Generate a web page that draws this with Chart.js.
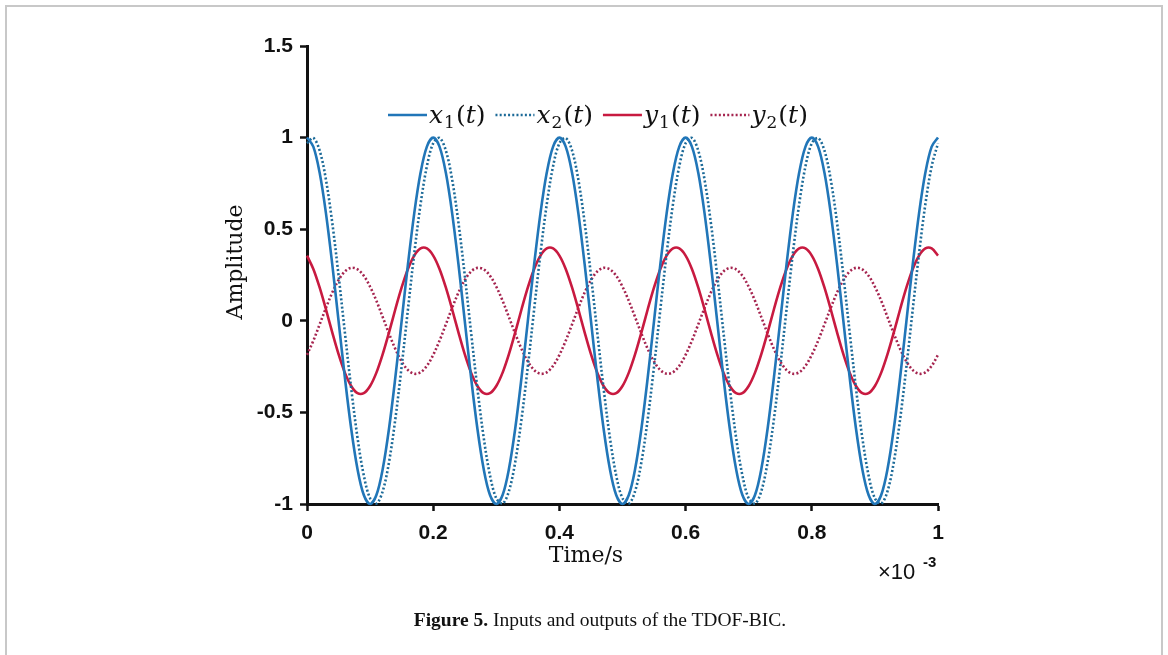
<!DOCTYPE html>
<html>
<head>
<meta charset="utf-8">
<script src="https://cdn.jsdelivr.net/npm/chart.js@4.4.1/dist/chart.umd.min.js"></script>
<style>
  html, body { margin: 0; padding: 0; background: #fff; }
  #wrap { position: relative; width: 1168px; height: 655px; overflow: hidden; }
  #frame {
    position: absolute; left: 5px; top: 5px; width: 1154px; height: 700px;
    border-left: 2px solid #c8c8c8; border-top: 2px solid #c8c8c8; border-right: 2px solid #c8c8c8;
  }
  #chart { position: absolute; left: 0; top: 0; }
  #caption {
    position: absolute; left: 0; width: 1200px; top: 609px; text-align: center;
    font-family: 'Liberation Serif', serif; font-size: 19.5px; color: #111;
  }
  #caption b { font-weight: bold; }
</style>
</head>
<body>
<div id="wrap">
  <div id="frame"></div>
  <canvas id="chart" width="1168" height="655"></canvas>
  <div id="caption"><b>Figure 5.</b> Inputs and outputs of the TDOF-BIC.</div>
</div>
<script>
// Time axis (x 10^-3 s)
const times = [
  0.00, 0.01, 0.02, 0.03, 0.04, 0.05, 0.06, 0.07, 0.08, 0.09,
  0.10, 0.11, 0.12, 0.13, 0.14, 0.15, 0.16, 0.17, 0.18, 0.19,
  0.20, 0.21, 0.22, 0.23, 0.24, 0.25, 0.26, 0.27, 0.28, 0.29,
  0.30, 0.31, 0.32, 0.33, 0.34, 0.35, 0.36, 0.37, 0.38, 0.39,
  0.40, 0.41, 0.42, 0.43, 0.44, 0.45, 0.46, 0.47, 0.48, 0.49,
  0.50, 0.51, 0.52, 0.53, 0.54, 0.55, 0.56, 0.57, 0.58, 0.59,
  0.60, 0.61, 0.62, 0.63, 0.64, 0.65, 0.66, 0.67, 0.68, 0.69,
  0.70, 0.71, 0.72, 0.73, 0.74, 0.75, 0.76, 0.77, 0.78, 0.79,
  0.80, 0.81, 0.82, 0.83, 0.84, 0.85, 0.86, 0.87, 0.88, 0.89,
  0.90, 0.91, 0.92, 0.93, 0.94, 0.95, 0.96, 0.97, 0.98, 0.99,
  1.00
];

// x1(t) - input 1 (solid blue)
const x1 = [
  1, 0.951, 0.809, 0.588, 0.309, 0, -0.309, -0.588, -0.809, -0.951, -1, -0.951, -0.809, -0.588, -0.309, 0, 0.309, 0.588, 0.809, 0.951,
  1, 0.951, 0.809, 0.588, 0.309, 0, -0.309, -0.588, -0.809, -0.951, -1, -0.951, -0.809, -0.588, -0.309, 0, 0.309, 0.588, 0.809, 0.951,
  1, 0.951, 0.809, 0.588, 0.309, 0, -0.309, -0.588, -0.809, -0.951, -1, -0.951, -0.809, -0.588, -0.309, 0, 0.309, 0.588, 0.809, 0.951,
  1, 0.951, 0.809, 0.588, 0.309, 0, -0.309, -0.588, -0.809, -0.951, -1, -0.951, -0.809, -0.588, -0.309, 0, 0.309, 0.588, 0.809, 0.951,
  1, 0.951, 0.809, 0.588, 0.309, 0, -0.309, -0.588, -0.809, -0.951, -1, -0.951, -0.809, -0.588, -0.309, 0, 0.309, 0.588, 0.809, 0.951,
  1
];

// x2(t) - input 2 (dotted blue), slightly lagging x1
const x2 = [
  0.969, 0.998, 0.930, 0.771, 0.536, 0.249, -0.063, -0.368, -0.637, -0.844, -0.969, -0.998, -0.930, -0.771, -0.536, -0.249, 0.063, 0.368, 0.637, 0.844,
  0.969, 0.998, 0.930, 0.771, 0.536, 0.249, -0.063, -0.368, -0.637, -0.844, -0.969, -0.998, -0.930, -0.771, -0.536, -0.249, 0.063, 0.368, 0.637, 0.844,
  0.969, 0.998, 0.930, 0.771, 0.536, 0.249, -0.063, -0.368, -0.637, -0.844, -0.969, -0.998, -0.930, -0.771, -0.536, -0.249, 0.063, 0.368, 0.637, 0.844,
  0.969, 0.998, 0.930, 0.771, 0.536, 0.249, -0.063, -0.368, -0.637, -0.844, -0.969, -0.998, -0.930, -0.771, -0.536, -0.249, 0.063, 0.368, 0.637, 0.844,
  0.969, 0.998, 0.930, 0.771, 0.536, 0.249, -0.063, -0.368, -0.637, -0.844, -0.969, -0.998, -0.930, -0.771, -0.536, -0.249, 0.063, 0.368, 0.637, 0.844,
  0.969
];

// y1(t) - output 1 (solid red)
const y1 = [
  0.356, 0.283, 0.182, 0.063, -0.063, -0.182, -0.283, -0.356, -0.395, -0.395, -0.356, -0.283, -0.182, -0.063, 0.063, 0.182, 0.283, 0.356, 0.395, 0.395,
  0.356, 0.283, 0.182, 0.063, -0.063, -0.182, -0.283, -0.356, -0.395, -0.395, -0.356, -0.283, -0.182, -0.063, 0.063, 0.182, 0.283, 0.356, 0.395, 0.395,
  0.356, 0.283, 0.182, 0.063, -0.063, -0.182, -0.283, -0.356, -0.395, -0.395, -0.356, -0.283, -0.182, -0.063, 0.063, 0.182, 0.283, 0.356, 0.395, 0.395,
  0.356, 0.283, 0.182, 0.063, -0.063, -0.182, -0.283, -0.356, -0.395, -0.395, -0.356, -0.283, -0.182, -0.063, 0.063, 0.182, 0.283, 0.356, 0.395, 0.395,
  0.356, 0.283, 0.182, 0.063, -0.063, -0.182, -0.283, -0.356, -0.395, -0.395, -0.356, -0.283, -0.182, -0.063, 0.063, 0.182, 0.283, 0.356, 0.395, 0.395,
  0.356
];

// y2(t) - output 2 (dotted red)
const y2 = [
  -0.186, -0.109, -0.020, 0.070, 0.154, 0.222, 0.269, 0.289, 0.281, 0.246, 0.186, 0.109, 0.020, -0.070, -0.154, -0.222, -0.269, -0.289, -0.281, -0.246,
  -0.186, -0.109, -0.020, 0.070, 0.154, 0.222, 0.269, 0.289, 0.281, 0.246, 0.186, 0.109, 0.020, -0.070, -0.154, -0.222, -0.269, -0.289, -0.281, -0.246,
  -0.186, -0.109, -0.020, 0.070, 0.154, 0.222, 0.269, 0.289, 0.281, 0.246, 0.186, 0.109, 0.020, -0.070, -0.154, -0.222, -0.269, -0.289, -0.281, -0.246,
  -0.186, -0.109, -0.020, 0.070, 0.154, 0.222, 0.269, 0.289, 0.281, 0.246, 0.186, 0.109, 0.020, -0.070, -0.154, -0.222, -0.269, -0.289, -0.281, -0.246,
  -0.186, -0.109, -0.020, 0.070, 0.154, 0.222, 0.269, 0.289, 0.281, 0.246, 0.186, 0.109, 0.020, -0.070, -0.154, -0.222, -0.269, -0.289, -0.281, -0.246,
  -0.186
];

const xTicks = [0, 0.2, 0.4, 0.6, 0.8, 1];
const yTicks = [-1, -0.5, 0, 0.5, 1, 1.5];

// legend entries: base letter, subscript
const legendItems = [
  { base: 'x', sub: '1' },
  { base: 'x', sub: '2' },
  { base: 'y', sub: '1' },
  { base: 'y', sub: '2' }
];

const colors = {
  x1: '#2176b8',
  x2: '#1c6a98',
  y1: '#c81a40',
  y2: '#a5244f'
};

function pts(vals) {
  return vals.map((v, i) => ({ x: times[i], y: v }));
}

const mathFont = "'DejaVu Serif', serif";

// draws "x_1(t)" style label, returns width
function drawMath(ctx, x, y, base, sub) {
  let cx = x;
  ctx.textBaseline = 'alphabetic';
  ctx.textAlign = 'left';
  ctx.font = 'italic 25px ' + mathFont;
  ctx.fillText(base, cx, y);
  cx += ctx.measureText(base).width + 1;
  ctx.font = '17px ' + mathFont;
  ctx.fillText(sub, cx, y + 5);
  cx += ctx.measureText(sub).width + 1;
  ctx.font = '25px ' + mathFont;
  ctx.fillText('(', cx, y);
  cx += ctx.measureText('(').width;
  ctx.font = 'italic 25px ' + mathFont;
  ctx.fillText('t', cx, y);
  cx += ctx.measureText('t').width;
  ctx.font = '25px ' + mathFont;
  ctx.fillText(')', cx, y);
  cx += ctx.measureText(')').width;
  return cx - x;
}

const annotations = {
  id: 'annotations',
  afterDraw(chart) {
    const ctx = chart.ctx;
    ctx.save();
    ctx.fillStyle = '#111';

    // axis titles
    ctx.font = "22px 'DejaVu Serif', serif";
    ctx.textAlign = 'center';
    ctx.textBaseline = 'middle';
    ctx.fillText('Time/s', 586, 556);
    ctx.save();
    ctx.translate(236, 262);
    ctx.rotate(-Math.PI / 2);
    ctx.fillText('Amplitude', 0, 0);
    ctx.restore();

    // exponent label
    ctx.textAlign = 'left';
    ctx.textBaseline = 'alphabetic';
    ctx.font = "22px 'Liberation Sans', sans-serif";
    ctx.fillText('\u00d710', 878, 579);
    ctx.font = "bold 15px 'Liberation Sans', sans-serif";
    ctx.fillText('-3', 923, 567);

    // legend inside the plot
    const ds = chart.data.datasets;
    let lx = 388;
    const ly = 115;
    legendItems.forEach((item, i) => {
      const d = ds[i];
      ctx.save();
      ctx.strokeStyle = d.borderColor;
      ctx.lineWidth = d.borderWidth;
      ctx.setLineDash(d.borderDash || []);
      ctx.beginPath();
      ctx.moveTo(lx, ly);
      ctx.lineTo(lx + 39, ly);
      ctx.stroke();
      ctx.restore();
      const w = drawMath(ctx, lx + 41, ly + 8, item.base, item.sub);
      lx += 41 + w + 10;
    });
    ctx.restore();
  }
};

new Chart(document.getElementById('chart'), {
  type: 'line',
  data: {
    datasets: [
      { label: 'x1(t)', data: pts(x1), borderColor: colors.x1, borderWidth: 2.6 },
      { label: 'x2(t)', data: pts(x2), borderColor: colors.x2, borderWidth: 2.6, borderDash: [2, 2.2] },
      { label: 'y1(t)', data: pts(y1), borderColor: colors.y1, borderWidth: 2.6 },
      { label: 'y2(t)', data: pts(y2), borderColor: colors.y2, borderWidth: 2.6, borderDash: [2, 2.2] }
    ]
  },
  options: {
    responsive: false,
    animation: false,
    events: [],
    clip: false,
    elements: {
      point: { radius: 0 },
      line: { tension: 0.34, fill: false }
    },
    layout: {
      autoPadding: false,
      padding: { left: 0, top: 46, right: 230, bottom: 0 }
    },
    plugins: {
      legend: { display: false },
      tooltip: { enabled: false }
    },
    scales: {
      x: {
        type: 'linear',
        min: 0,
        max: 1,
        afterFit(scale) { scale.height = 151; },
        afterBuildTicks(scale) { scale.ticks = xTicks.map(v => ({ value: v })); },
        grid: { drawOnChartArea: false, drawTicks: true, tickLength: 7, tickWidth: 2.5, tickColor: '#111' },
        border: { display: true, color: '#111', width: 3 },
        ticks: {
          color: '#111',
          padding: 10,
          maxRotation: 0,
          font: { family: "'Liberation Sans', sans-serif", size: 21, weight: 'bold' },
          callback: v => String(v)
        }
      },
      y: {
        min: -1,
        max: 1.5,
        afterFit(scale) { scale.width = 307; },
        afterBuildTicks(scale) { scale.ticks = yTicks.map(v => ({ value: v })); },
        grid: { drawOnChartArea: false, drawTicks: true, tickLength: 7, tickWidth: 2.5, tickColor: '#111' },
        border: { display: true, color: '#111', width: 3 },
        ticks: {
          color: '#111',
          padding: 7,
          font: { family: "'Liberation Sans', sans-serif", size: 21, weight: 'bold' },
          callback: v => String(v)
        }
      }
    }
  },
  plugins: [annotations]
});
</script>
</body>
</html>
